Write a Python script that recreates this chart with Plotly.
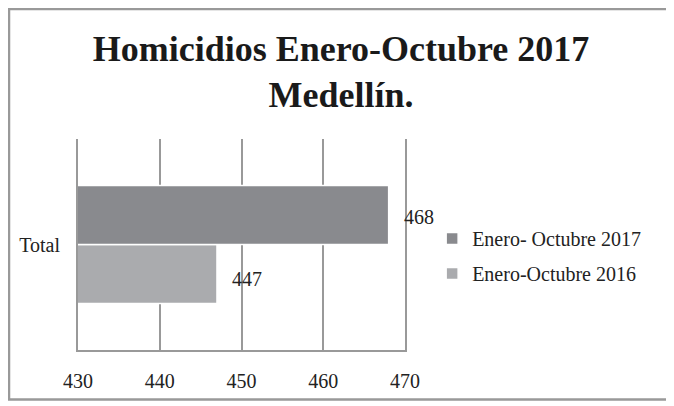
import plotly.graph_objects as go

categories = ['Total']
series_names = ['Enero- Octubre 2017', 'Enero-Octubre 2016']
values_2017 = [468]
values_2016 = [447]
bar_colors = ['#898a8e', '#aaabae']
x_ticks = [430, 440, 450, 460, 470]

serif = 'Liberation Serif, Times New Roman, serif'

fig = go.Figure()
# horizontal bars stack bottom-up, so the 2016 series goes first
fig.add_trace(go.Bar(y=categories, x=values_2016, name=series_names[1], orientation='h',
                     marker={'color': bar_colors[1], 'line': {'color': 'white', 'width': 1.5}},
                     legendrank=2, legendgroup='b'))
fig.add_trace(go.Bar(y=categories, x=values_2017, name=series_names[0], orientation='h',
                     marker={'color': bar_colors[0], 'line': {'color': 'white', 'width': 1.5}},
                     legendrank=1, legendgroup='a'))

# value labels next to the bar ends
for vals, yshift in [(values_2017, 28), (values_2016, -34)]:
    for cat, v in zip(categories, vals):
        fig.add_annotation(x=v, y=cat, text=str(v), showarrow=False, xanchor='left',
                           xshift=13, yshift=yshift, font={'family': serif, 'size': 20, 'color': '#222'})

# the page has an 8px body margin, so the figure is 8px smaller than the window
fig.update_layout(
    width=666, height=398,
    margin={'l': 70, 'r': 269, 't': 131, 'b': 56},
    title={'text': '<b>Homicidios Enero-Octubre 2017<br>Medellín.</b>', 'x': 0.5, 'xanchor': 'center',
           'y': 0.868, 'yanchor': 'middle', 'font': {'family': serif, 'size': 36, 'color': '#1a1a1a'}},
    barmode='group', bargap=0.44, bargroupgap=0,
    plot_bgcolor='white', paper_bgcolor='white',
    font={'family': serif, 'size': 20, 'color': '#222'},
    xaxis={'range': [430, 470], 'tickvals': x_ticks, 'showgrid': True, 'gridcolor': '#999',
           'gridwidth': 2, 'showline': True, 'linecolor': '#999', 'linewidth': 2,
           'zeroline': False, 'ticklabelstandoff': 12, 'tickfont': {'size': 20}},
    yaxis={'showgrid': False, 'showline': True, 'mirror': True, 'linecolor': '#999', 'linewidth': 2,
           'ticklabelstandoff': 12, 'tickfont': {'size': 20}},
    legend={'x': 1.083, 'y': 0.445, 'xanchor': 'left', 'yanchor': 'middle',
            'font': {'family': serif, 'size': 20}, 'itemwidth': 30, 'tracegroupgap': 6},
    showlegend=True,
)

# outer frame around the whole chart
fig.add_shape(type='rect', xref='paper', yref='paper', x0=-0.211, x1=1.81, y0=-0.235, y1=1.616,
              line={'color': '#999', 'width': 2.5}, layer='below')

fig.write_html('out.html')
